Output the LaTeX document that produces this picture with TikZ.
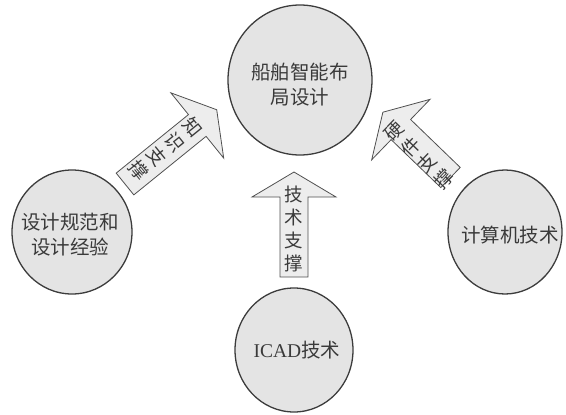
\documentclass[tikz,border=0pt]{standalone}
\usepackage{fontspec}
\setmainfont{Liberation Serif}
\newfontfamily\cjk{Noto Sans CJK SC}
\usetikzlibrary{shapes.geometric}
\definecolor{circfill}{HTML}{E4E4E4}
\definecolor{circline}{HTML}{3C3C3C}
\definecolor{arrfill}{HTML}{EDEDED}
\definecolor{arrline}{HTML}{505050}
\definecolor{txt}{HTML}{3A3A3A}
\newcommand\blockarrowdraw[4]{%
  \begin{scope}[shift={#1}, rotate=#2]
    \coordinate (#4) at (0,0);
    \path[barrow] (0,-14) -- (#3,-14) -- (#3,-42) -- ({#3+25},0) -- (#3,42) -- (#3,14) -- (0,14) -- cycle;
  \end{scope}}
\begin{document}
\begin{tikzpicture}[x=1pt,y=-1pt,
  circ/.style={ellipse, draw=circline, fill=circfill, line width=1.3pt, inner sep=0pt},
  ctext/.style={align=center, text=txt, inner sep=0pt, font=\cjk\fontsize{19.5}{25}\selectfont},
  barrow/.style={draw=arrline, fill=arrfill, line width=0.8pt, line join=miter},
  atext/.style={align=center, text=txt, inner sep=0pt, font=\cjk\fontsize{18.5}{23}\selectfont}]
\useasboundingbox (0,0) rectangle (566,415);

% circles
\node[circ, minimum width=144pt, minimum height=150pt] (top) at (300,80) {};
\node[circ, minimum width=120pt, minimum height=124pt] (left) at (72,232) {};
\node[circ, minimum width=114pt, minimum height=124pt] (right) at (505,232) {};
\node[circ, minimum width=118pt, minimum height=124pt] (bottom) at (294,350) {};

\node[ctext] (toptext) at (300,84.5) {船舶智能布\\局设计};
\node[ctext] (lefttext) at (70,235) {设计规范和\\设计经验};
\node[ctext] (righttext) at (510,235) {计算机技术};
\node[ctext] (bottomtext) at (297,350) {{\rmfamily ICAD}技术};

% block arrows
\blockarrowdraw{(294,277)}{90}{80}{aC}
\blockarrowdraw{(125,184)}{39}{93}{aL}
\blockarrowdraw{(450.5,177.5)}{136}{69}{aR}

\node[atext] (tC) at (294,229) {技\\术\\支\\撑};
\node[atext, rotate=-51] (tL) at (166,149) {知\\识\\支\\撑};
\node[atext, rotate=46] (tR) at (419,155) {硬\\件\\支\\撑};
\end{tikzpicture}
\end{document}
